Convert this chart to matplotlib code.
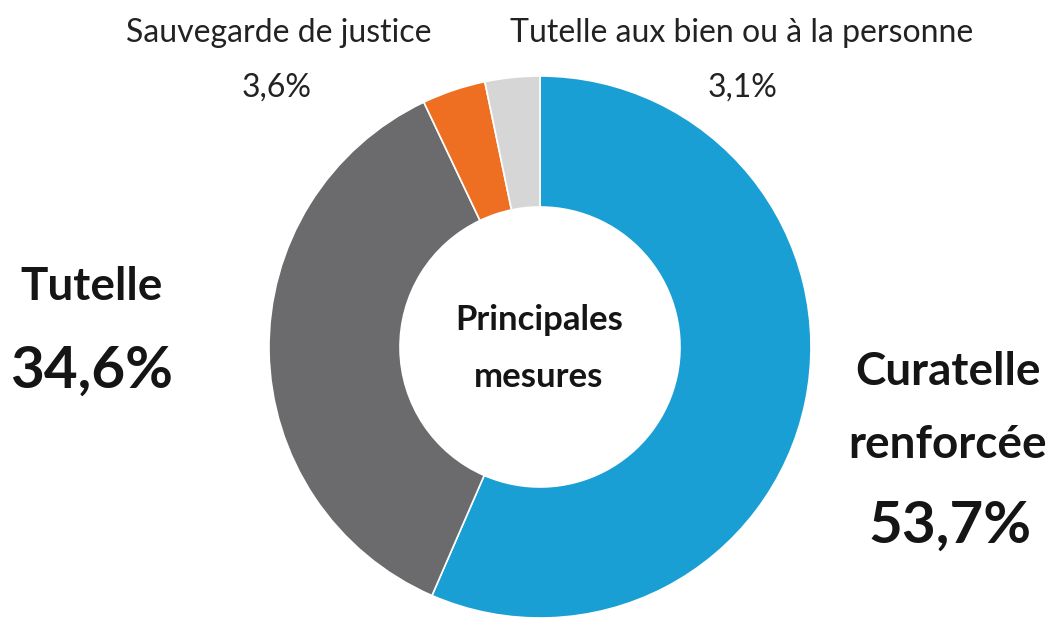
import matplotlib.pyplot as plt

plt.rcParams['font.family'] = ['Lato', 'DejaVu Sans']

# données
categories = ['Curatelle renforcée', 'Tutelle', 'Sauvegarde de justice',
              'Tutelle aux bien ou à la personne']
values = [53.7, 34.6, 3.6, 3.1]
colors = ['#1a9fd4', '#6b6b6e', '#ef6f22', '#d6d6d6']

W, H = 1053, 618


def pct(v):
    return f"{v:.1f}".replace('.', ',') + '%'


def py(y):
    # coordonnée pixel (haut -> bas) vers données (bas -> haut)
    return H - y


fig = plt.figure(figsize=(W / 100, H / 100), dpi=100)
ax = fig.add_axes([0, 0, 1, 1])

ax.pie(values, colors=colors, startangle=90, counterclock=False,
       center=(540, py(347)), radius=271,
       wedgeprops=dict(width=131, edgecolor='white', linewidth=1.2))

ax.set_xlim(0, W)
ax.set_ylim(0, H)
ax.set_aspect('auto')
ax.axis('off')

txt = '#151515'
small = '#222222'

# petites étiquettes en haut
ax.text(279, py(42), categories[2], ha='center', va='baseline', fontsize=23, color=small)
ax.text(277, py(97), pct(values[2]), ha='center', va='baseline', fontsize=23, color=small)
ax.text(742, py(42), categories[3], ha='center', va='baseline', fontsize=23, color=small)
ax.text(743, py(97), pct(values[3]), ha='center', va='baseline', fontsize=23, color=small)

# grandes étiquettes
ax.text(92, py(300), categories[1], ha='center', va='baseline', fontsize=33,
        fontweight='bold', color=txt)
ax.text(92, py(388), pct(values[1]), ha='center', va='baseline', fontsize=42,
        fontweight='bold', color=txt)

cur1, cur2 = categories[0].split(' ')
ax.text(948, py(385), cur1, ha='center', va='baseline', fontsize=33,
        fontweight='bold', color=txt)
ax.text(948, py(458), cur2, ha='center', va='baseline', fontsize=33,
        fontweight='bold', color=txt)
ax.text(950, py(543), pct(values[0]), ha='center', va='baseline', fontsize=42,
        fontweight='bold', color=txt)

# centre du donut
ax.text(539, py(330), 'Principales', ha='center', va='baseline', fontsize=25,
        fontweight='bold', color=txt)
ax.text(539, py(387), 'mesures', ha='center', va='baseline', fontsize=25,
        fontweight='bold', color=txt)

fig.savefig('out.png', dpi=100)
